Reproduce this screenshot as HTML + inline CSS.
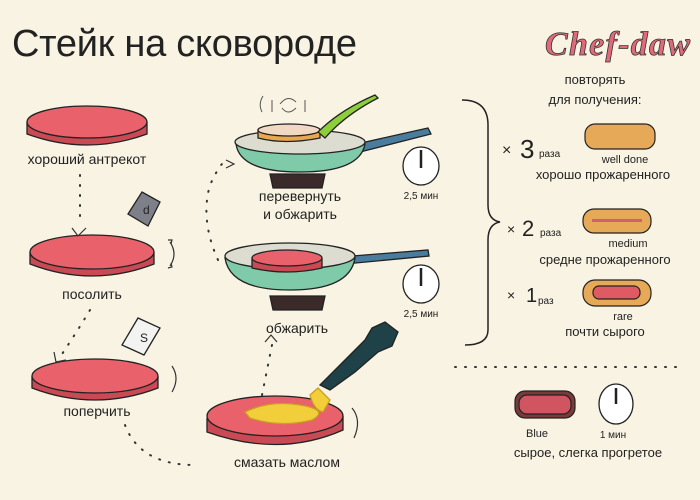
<!DOCTYPE html>
<html><head><meta charset="utf-8"><style>
html,body{margin:0;padding:0;background:#f8f3e2;}
svg{display:block}
text{font-family:"Liberation Sans","DejaVu Sans",sans-serif;fill:#222}
</style></head><body>
<svg width="700" height="500" viewBox="0 0 700 500" xmlns="http://www.w3.org/2000/svg">
<rect width="700" height="500" fill="#f8f3e2"/>
<text x="12" y="56" font-size="38" fill="#222" textLength="345">Стейк на сковороде</text>
<text x="545" y="55" font-size="34" font-weight="bold" font-style="italic" style="font-family:'Liberation Serif',serif;fill:#e06a78;stroke:#333;stroke-width:0.8" textLength="145">Chef-daw</text>

<g stroke="#222" stroke-width="1.3">
 <path d="M27 122 L27 134 Q87 156 147 134 L147 122" fill="#c94a55"/>
 <ellipse cx="87" cy="122" rx="60" ry="16" fill="#e8616b"/>
 <path d="M30 252 L30 264 Q92 288 154 264 L154 252" fill="#c94a55"/>
 <ellipse cx="92" cy="252" rx="62" ry="17" fill="#e8616b"/>
 <path d="M32 376 L32 388 Q95 412 158 388 L158 376" fill="#c94a55"/>
 <ellipse cx="95" cy="376" rx="63" ry="17" fill="#e8616b"/>
 <path d="M207 418 L207 432 Q280 458 343 430 L343 416" fill="#c94a55"/>
 <ellipse cx="275" cy="416" rx="68" ry="20" fill="#e8616b"/>
 <path d="M245 412 Q270 400 300 405 Q330 410 312 420 Q280 428 250 418 Z" fill="#f2cf3a" stroke="#c9a020"/>
 <path d="M318 388 L330 400 L323 412 Q314 410 310 395 Z" fill="#f2cf3a" stroke="#c9a020"/>
 <path d="M320 385 L340 365 L365 340 L372 328 L385 322 L398 332 L392 346 L378 352 L355 372 L330 390 Z" fill="#1f4248"/>
 <path d="M128 214 L142 192 L160 202 L148 226 Z" fill="#7d8088"/>
 <path d="M122 345 L138 318 L160 328 L144 355 Z" fill="#f3f3f1"/>
</g>
<g fill="none" stroke="#333" stroke-width="1.2">
 <path d="M170 242 Q178 254 170 266 M168 240 l4 0 l-1 4 M168 268 l4 -1 l-1 -4"/>
 <path d="M172 366 Q180 378 172 392"/>
 <path d="M352 408 Q362 420 354 438"/>
 <path d="M72 228 L78 236 L86 228"/>
 <path d="M54 352 L56 362 L66 360"/>
 <path d="M265 342 L271 335 L277 342"/>
 <path d="M226 160 L234 164 L226 168"/>
</g>
<text x="143" y="214" font-size="12">d</text>
<text x="140" y="342" font-size="12">S</text>
<g font-size="14" text-anchor="middle">
 <text x="87" y="164">хороший антрекот</text>
 <text x="92" y="299">посолить</text>
 <text x="97" y="416">поперчить</text>
 <text x="287" y="467">смазать маслом</text>
 <text x="300" y="201">перевернуть</text>
 <text x="300" y="219">и обжарить</text>
 <text x="297" y="333">обжарить</text>
</g>

<g fill="none" stroke="#333" stroke-width="2" stroke-dasharray="1 9" stroke-linecap="round">
 <path d="M80 175 L80 225"/>
 <path d="M90 310 Q75 335 58 360"/>
 <path d="M125 425 Q140 465 195 465"/>
 <path d="M262 395 L272 345"/>
 <path d="M218 260 Q200 220 210 185 Q218 168 222 164"/>
 <path d="M455 367 L685 367"/>
</g>

<g stroke="#222" stroke-width="1.3">
 <path d="M352 145 L428 128 L431 134 L356 153 Z" fill="#4a7c9e"/>
 <path d="M236 144 Q240 172 300 172 Q360 172 365 144 Z" fill="#7ecaa9"/>
 <ellipse cx="300" cy="142" rx="65" ry="12" fill="#dcdcd0"/>
 <path d="M258 130 L258 138 Q285 145 320 138 L320 130 Z" fill="#e8a94e"/>
 <ellipse cx="289" cy="130" rx="31" ry="6" fill="#f1d8c2"/>
 <path d="M318 132 Q340 110 375 95 L378 98 Q345 115 325 138 Z" fill="#8ccf3a"/>
 <path d="M270 174 L325 174 L322 188 L273 188 Z" fill="#3a2a2a"/>
 <path d="M340 257 L428 250 L429 256 L345 264 Z" fill="#4a7c9e"/>
 <path d="M225 258 Q230 290 290 290 Q350 290 355 258 Z" fill="#7ecaa9"/>
 <ellipse cx="290" cy="256" rx="65" ry="13" fill="#dcdcd0"/>
 <path d="M252 258 L252 268 Q287 276 322 268 L322 258" fill="#c94a55"/>
 <ellipse cx="287" cy="258" rx="35" ry="8" fill="#e8616b"/>
 <path d="M270 296 L325 296 L322 310 L273 310 Z" fill="#3a2a2a"/>
 <ellipse cx="421" cy="166" rx="18" ry="19" fill="#fff"/>
 <ellipse cx="421" cy="284" rx="18" ry="19" fill="#fff"/>
 <ellipse cx="616" cy="404" rx="17" ry="20" fill="#fff"/>
 <line x1="421" y1="150" x2="421" y2="168" stroke-width="2.5"/>
 <line x1="421" y1="268" x2="421" y2="286" stroke-width="2.5"/>
 <line x1="616" y1="388" x2="616" y2="404" stroke-width="2.5"/>
</g>
<g fill="none" stroke="#555" stroke-width="1">
 <path d="M262 112 Q258 104 263 96 M272 112 L272 100 M305 112 L305 100 M280 104 Q288 94 296 102 M296 108 Q288 116 282 108"/>
</g>
<g font-size="10" text-anchor="middle">
 <text x="421" y="199">2,5 мин</text>
 <text x="421" y="317">2,5 мин</text>
 <text x="613" y="438">1 мин</text>
</g>

<path d="M462 100 Q488 100 488 125 L488 205 Q488 220 500 222 Q488 224 488 240 L488 330 Q488 345 465 345" fill="none" stroke="#222" stroke-width="1.5"/>

<g stroke="#222" stroke-width="1.2">
 <rect x="585" y="124" width="70" height="25" rx="10" fill="#e6a958"/>
 <rect x="583" y="209" width="68" height="24" rx="11" fill="#e6a958"/>
 <rect x="592" y="219" width="50" height="3" fill="#d06070" stroke="none"/>
 <rect x="583" y="280" width="68" height="26" rx="12" fill="#e6a958"/>
 <rect x="593" y="286" width="47" height="13" rx="6" fill="#e05a63"/>
 <rect x="515" y="391" width="60" height="27" rx="10" fill="#7a3a3a"/>
 <rect x="519" y="395" width="52" height="19" rx="8" fill="#d05560"/>
</g>
<g font-size="13" text-anchor="middle">
 <text x="595" y="84">повторять</text>
 <text x="595" y="104">для получения:</text>
 <text x="603" y="179">хорошо прожаренного</text>
 <text x="605" y="264">средне прожаренного</text>
 <text x="605" y="336">почти сырого</text>
 <text x="588" y="457">сырое, слегка прогретое</text>
</g>
<g font-size="11" text-anchor="middle">
 <text x="625" y="163">well done</text>
 <text x="628" y="247">medium</text>
 <text x="623" y="320">rare</text>
 <text x="537" y="437">Blue</text>
</g>
<text x="502" y="155" font-size="16">×</text>
<text x="520" y="158" font-size="26">3</text>
<text x="539" y="157" font-size="10">раза</text>
<text x="507" y="234" font-size="14">×</text>
<text x="522" y="236" font-size="22">2</text>
<text x="540" y="236" font-size="10">раза</text>
<text x="507" y="300" font-size="14">×</text>
<text x="526" y="302" font-size="20">1</text>
<text x="538" y="304" font-size="10">раз</text>
</svg>
</body></html>
